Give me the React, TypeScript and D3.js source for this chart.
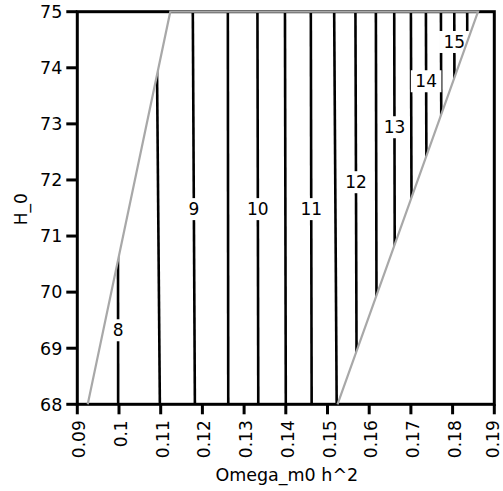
import React from "react";
import * as d3 from "d3";

const contourLevels = [8, 8.5, 9, 9.5, 10, 10.5, 11, 11.5, 12, 12.5, 13, 13.5, 14, 14.5, 15, 15.5];
const omegaAtH68 = [0.0998, 0.1098, 0.1182, 0.1262, 0.1334, 0.14, 0.1462, 0.1522, 0.157, 0.1618, 0.1662, 0.1703, 0.1739, 0.1775, 0.1806, 0.1837];
const omegaAtH75 = [0.0997, 0.109, 0.1177, 0.1261, 0.1332, 0.1398, 0.146, 0.1516, 0.1567, 0.1616, 0.166, 0.17, 0.1736, 0.1772, 0.1804, 0.1835];

const labelLevels = [8, 9, 10, 11, 12, 13, 14, 15];
const labelH = [69.32, 71.48, 71.48, 71.48, 71.96, 72.94, 73.76, 74.46];

const boundaryOmega = [0.0925, 0.1123, 0.1861, 0.1524];
const boundaryH = [68, 75, 75, 68];

const xTicks = [0.09, 0.1, 0.11, 0.12, 0.13, 0.14, 0.15, 0.16, 0.17, 0.18, 0.19];
const yTicks = [68, 69, 70, 71, 72, 73, 74, 75];

const W = 503;
const H = 491;
const FONT = "'DejaVu Sans', sans-serif";

export default function App() {
  const x = d3.scaleLinear().domain([0.09, 0.19]).range([77.3, 494.3]);
  const y = d3.scaleLinear().domain([68, 75]).range([404.3, 11.7]);
  const line = d3.line<[number, number]>().x((d) => x(d[0])).y((d) => y(d[1]));

  const bpts: [number, number][] = boundaryOmega.map((o, i) => [o, boundaryH[i]]);
  const clipPath = line([...bpts, bpts[0]]) + "Z";
  const greyPath = line(bpts) as string;

  const x0 = x.range()[0], x1 = x.range()[1];
  const y0 = y.range()[1], y1 = y.range()[0];

  const omegaAt = (idx: number, h: number) =>
    omegaAtH68[idx] + ((h - 68) / 7) * (omegaAtH75[idx] - omegaAtH68[idx]);

  return (
    <svg width={W} height={H} style={{ position: "absolute", left: 0, top: 0, background: "#fff" }} fontFamily={FONT}>
      <defs>
        <clipPath id="region">
          <path d={clipPath} />
        </clipPath>
      </defs>
      <rect x={0} y={0} width={W} height={H} fill="#fff" />
      <g clipPath="url(#region)">
        {contourLevels.map((lv, i) => (
          <path
            key={lv}
            d={line([[omegaAtH68[i], 68], [omegaAtH75[i], 75]]) as string}
            stroke="#000"
            strokeWidth={2.6}
            fill="none"
          />
        ))}
      </g>
      {labelLevels.map((lv, j) => {
        const idx = contourLevels.indexOf(lv);
        const h = labelH[j];
        const cx = x(omegaAt(idx, h));
        const cy = y(h);
        const txt = String(lv);
        const w = txt.length * 10.8 + 9;
        return (
          <g key={lv}>
            <rect x={cx - w / 2} y={cy - 11} width={w} height={22} fill="#fff" />
            <text x={cx} y={cy} dy="0.36em" textAnchor="middle" fontSize={17} fill="#000">
              {txt}
            </text>
          </g>
        );
      })}
      {/* frame */}
      <rect x={x0} y={y0} width={x1 - x0} height={y1 - y0} fill="none" stroke="#000" strokeWidth={3} />
      <path d={greyPath} stroke="#a8a8a8" strokeWidth={2.2} fill="none" />
      {/* y axis ticks */}
      {yTicks.map((t) => (
        <g key={t}>
          <line x1={x0 - 11} x2={x0} y1={y(t)} y2={y(t)} stroke="#000" strokeWidth={3} />
          <text x={x0 - 15} y={y(t)} dy="0.36em" textAnchor="end" fontSize={17.5} fill="#000">
            {t}
          </text>
        </g>
      ))}
      {/* x axis ticks */}
      {xTicks.map((t, i) => (
        <g key={t}>
          <line x1={x(t)} x2={x(t)} y1={y1} y2={y1 + 10} stroke="#000" strokeWidth={3} />
          <text
            transform={`translate(${x(t) + (i === xTicks.length - 1 ? 5 : 8)},${y1 + 16}) rotate(-90)`}
            textAnchor="end"
            fontSize={17}
            fill="#000"
          >
            {String(t)}
          </text>
        </g>
      ))}
      <text x={(x0 + x1) / 2 + 1} y={481} textAnchor="middle" fontSize={17.5} fill="#000">
        Omega_m0 h^2
      </text>
      <text transform={`translate(27,${y(71.48)}) rotate(-90)`} textAnchor="middle" fontSize={17} fill="#000">
        H_0
      </text>
    </svg>
  );
}
